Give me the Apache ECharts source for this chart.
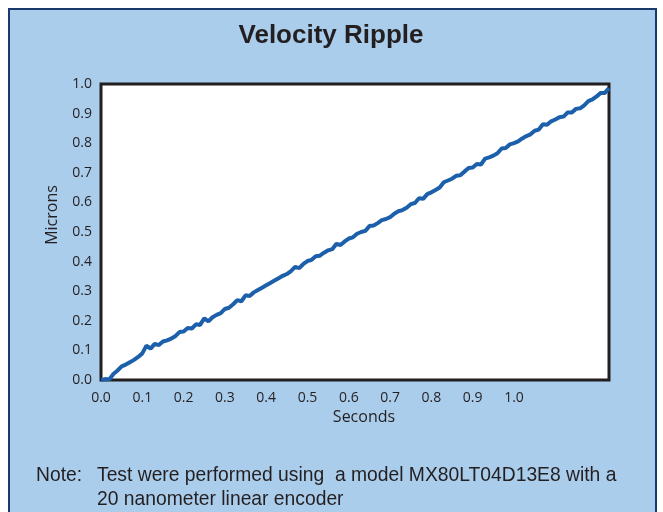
<!DOCTYPE html>
<html>
<head>
<meta charset="utf-8">
<script src="https://cdn.jsdelivr.net/npm/echarts@6/dist/echarts.min.js"></script>
<style>
  html, body { margin: 0; padding: 0; background: #ffffff; }
  #chart { width: 663px; height: 512px; }
</style>
</head>
<body>
<div id="chart"></div>
<script>
var sampleStep = 0.01;
var microns = [
  0.000, 0.003, 0.002, 0.020, 0.032, 0.046, 0.052, 0.060, 0.068, 0.078,
  0.090, 0.116, 0.106, 0.122, 0.118, 0.130, 0.134, 0.140, 0.148, 0.162,
  0.164, 0.176, 0.174, 0.188, 0.186, 0.208, 0.198, 0.212, 0.220, 0.226,
  0.240, 0.244, 0.256, 0.270, 0.266, 0.286, 0.284, 0.296, 0.304, 0.312,
  0.320, 0.328, 0.336, 0.344, 0.352, 0.358, 0.368, 0.382, 0.378, 0.392,
  0.402, 0.406, 0.418, 0.420, 0.430, 0.438, 0.442, 0.460, 0.456, 0.468,
  0.478, 0.482, 0.494, 0.500, 0.504, 0.520, 0.522, 0.530, 0.540, 0.544,
  0.550, 0.562, 0.570, 0.574, 0.582, 0.594, 0.598, 0.614, 0.612, 0.628,
  0.634, 0.642, 0.650, 0.668, 0.674, 0.680, 0.690, 0.692, 0.704, 0.716,
  0.718, 0.730, 0.728, 0.748, 0.752, 0.758, 0.766, 0.782, 0.784, 0.796,
  0.800, 0.806, 0.816, 0.824, 0.830, 0.842, 0.846, 0.864, 0.862, 0.874,
  0.880, 0.888, 0.890, 0.904, 0.904, 0.916, 0.918, 0.928, 0.942, 0.948,
  0.958, 0.970, 0.970, 0.986
];
var xTickLabels = ['0.0','0.1','0.2','0.3','0.4','0.5','0.6','0.7','0.8','0.9','1.0'];
var yTickLabels = ['0.0','0.1','0.2','0.3','0.4','0.5','0.6','0.7','0.8','0.9','1.0'];

var points = [];
for (var i = 0; i < microns.length; i++) {
  points.push([+(i * sampleStep).toFixed(2), microns[i]]);
}

var textColor = '#231f20';
var noteFont = '19.3px "Liberation Sans", Arial, sans-serif';
var myChart = echarts.init(document.getElementById('chart'));

var option = {
  animation: false,
  backgroundColor: '#ffffff',
  graphic: [
    {
      type: 'rect', z: -10, silent: true,
      shape: { x: 9, y: 9, width: 647, height: 512 },
      style: { fill: '#abcdec', stroke: '#1b3a6b', lineWidth: 2 }
    },
    {
      type: 'text', x: 331, y: 36,
      style: { text: 'Velocity Ripple', fill: textColor, align: 'center', verticalAlign: 'middle',
        font: 'bold 26px "Liberation Sans", Arial, sans-serif' }
    },
    {
      type: 'text', x: 52, y: 215, rotation: Math.PI / 2,
      style: { text: 'Microns', fill: textColor, align: 'center', verticalAlign: 'middle',
        font: '16px "Open Sans", sans-serif' }
    },
    {
      type: 'text', x: 364, y: 417,
      style: { text: 'Seconds', fill: textColor, align: 'center', verticalAlign: 'middle',
        font: '16px "Open Sans", sans-serif' }
    },
    {
      type: 'text', x: 36, y: 476,
      style: { text: 'Note:', fill: textColor, verticalAlign: 'middle', font: noteFont }
    },
    {
      type: 'text', x: 97, y: 476,
      style: { text: 'Test were performed using  a model MX80LT04D13E8 with a', fill: textColor,
        verticalAlign: 'middle', font: noteFont }
    },
    {
      type: 'text', x: 97, y: 500,
      style: { text: '20 nanometer linear encoder', fill: textColor,
        verticalAlign: 'middle', font: noteFont }
    }
  ],
  grid: {
    left: 101, right: 54, top: 84, bottom: 132,
    show: true, backgroundColor: '#ffffff',
    borderColor: textColor, borderWidth: 3, z: 5
  },
  xAxis: {
    type: 'value', min: 0, max: 1.23, interval: 0.1,
    axisLine: { show: false }, axisTick: { show: false }, splitLine: { show: false },
    axisLabel: {
      margin: 11, color: textColor, fontSize: 14, fontFamily: '"Open Sans", sans-serif',
      showMaxLabel: false,
      formatter: function (v) {
        var k = Math.round(v * 10);
        return k < xTickLabels.length ? xTickLabels[k] : '';
      }
    }
  },
  yAxis: {
    type: 'value', min: 0, max: 1, interval: 0.1,
    axisLine: { show: false }, axisTick: { show: false },
    splitLine: { show: true, lineStyle: { color: '#a8a8a8', width: 1.5 } },
    axisLabel: {
      margin: 9, color: textColor, fontSize: 14, fontFamily: '"Open Sans", sans-serif',
      formatter: function (v) { return yTickLabels[Math.round(v * 10)]; }
    }
  },
  series: [{
    type: 'line',
    data: points,
    showSymbol: false,
    lineStyle: { color: '#1c60ab', width: 4 },
    z: 6
  }]
};

myChart.setOption(option);
</script>
</body>
</html>
